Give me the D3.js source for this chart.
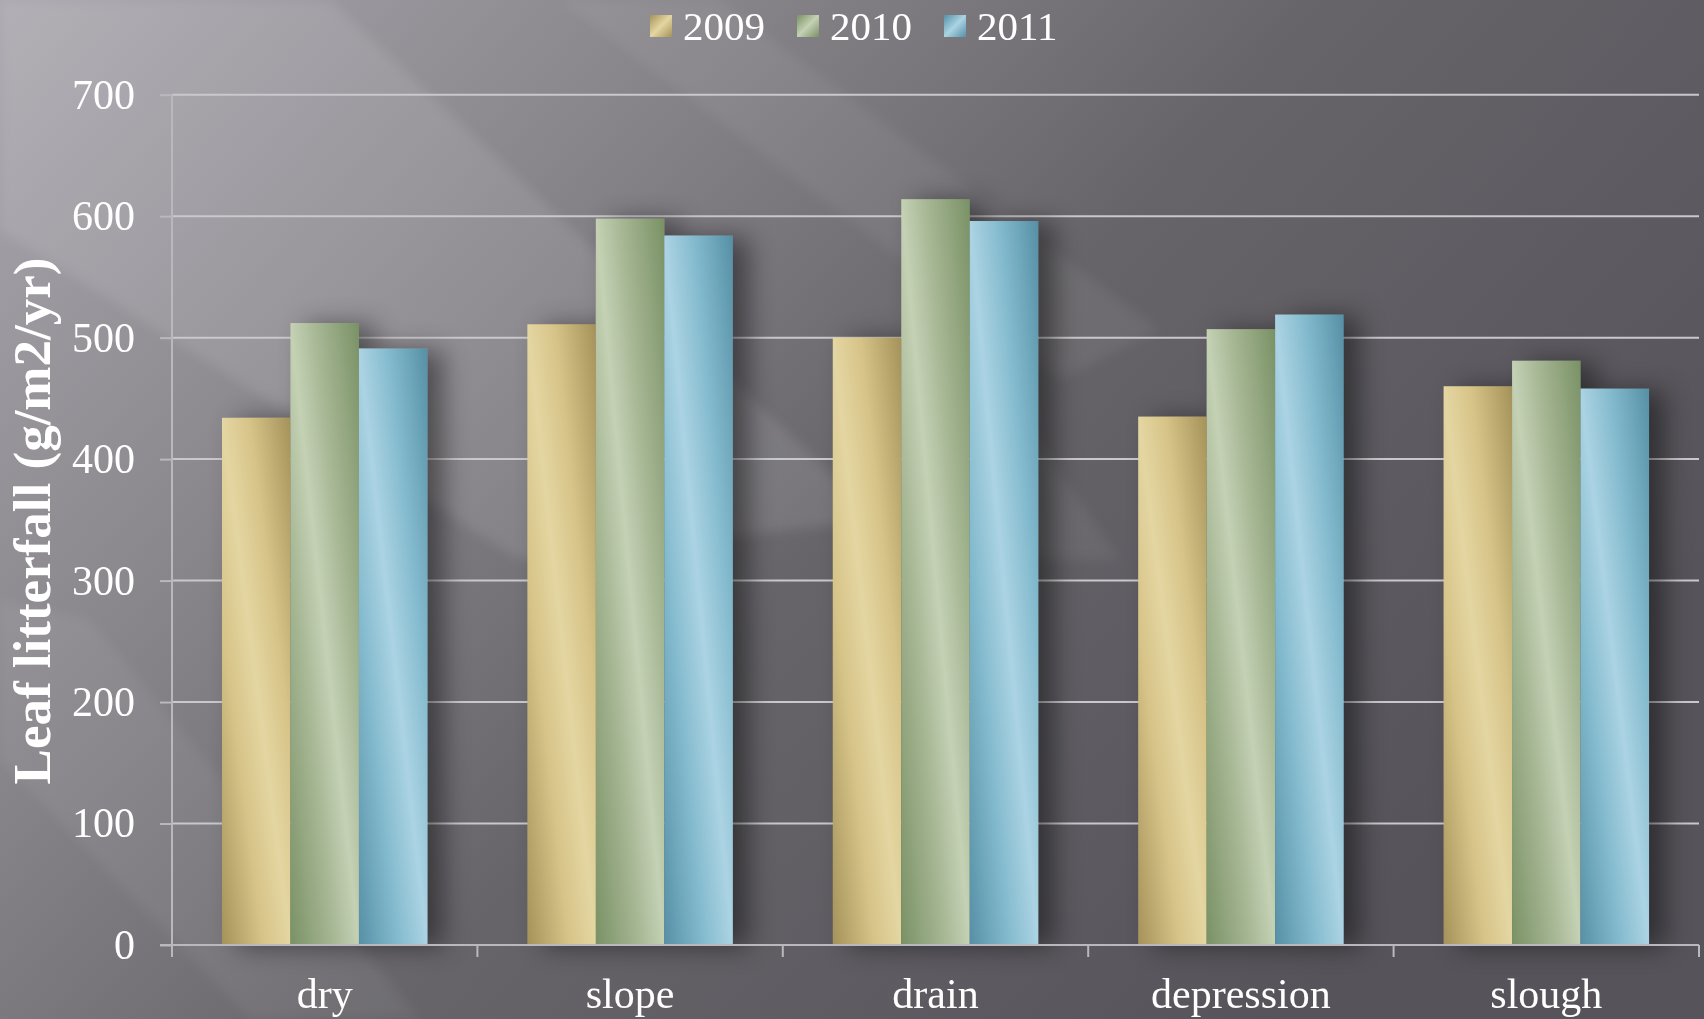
<!DOCTYPE html>
<html>
<head>
<meta charset="utf-8">
<script src="https://cdn.jsdelivr.net/npm/d3@7"></script>
<style>
  body { margin: 0; background: #6a686d; }
  svg { display: block; }
  text { font-family: "Liberation Serif", "Times New Roman", serif; fill: #fff; }
</style>
</head>
<body>
<div id="chart"></div>
<script>
// data
var categories = ["dry", "slope", "drain", "depression", "slough"];
var years = ["2009", "2010", "2011"];
var litter2009 = [434, 511, 500, 435, 460];
var litter2010 = [512, 598, 614, 507, 481];
var litter2011 = [491, 584, 596, 519, 458];
var yTicks = [0, 100, 200, 300, 400, 500, 600, 700];
var yTitle = "Leaf litterfall (g/m2/yr)";

function init ()
{
    var w = 1704;
    var h = 1019;
    var left = 172, right = 1699, top = 94.7, bottom = 945;

    var series = [litter2009, litter2010, litter2011];
    var rows = categories.map(function (c, i) {
        return { cat: c, vals: years.map(function (yr, j) { return { year: yr, value: series[j][i] }; }) };
    });

    var shades = {
        "2009": ["#e4d6a2", "#d6c387", "#a5925a"],
        "2010": ["#c4d1b4", "#a4b592", "#7a9165"],
        "2011": ["#abd3e3", "#86bccf", "#5690a6"]
    };

    var svg = d3.select("#chart")
        .append("svg")
        .attr("width", w)
        .attr("height", h);

    var defs = svg.append("defs");

    // background
    var bg = defs.append("linearGradient").attr("id", "bg")
        .attr("x1", 0).attr("y1", 0).attr("x2", 1).attr("y2", 0.55);
    bg.append("stop").attr("offset", 0).attr("stop-color", "#aaa7ae");
    bg.append("stop").attr("offset", 0.3).attr("stop-color", "#8a878d");
    bg.append("stop").attr("offset", 0.6).attr("stop-color", "#666469");
    bg.append("stop").attr("offset", 1).attr("stop-color", "#56545a");

    var blur = defs.append("filter").attr("id", "soft")
        .attr("x", "-20%").attr("y", "-20%").attr("width", "140%").attr("height", "140%");
    blur.append("feGaussianBlur").attr("stdDeviation", 6);

    var shadow = defs.append("filter").attr("id", "shadow")
        .attr("x", "-30%").attr("y", "-10%").attr("width", "160%").attr("height", "120%");
    shadow.append("feDropShadow").attr("dx", 16).attr("dy", 2)
        .attr("stdDeviation", 13).attr("flood-color", "#000").attr("flood-opacity", 0.45);

    years.forEach(function (yr) {
        var g = defs.append("linearGradient").attr("id", "bar" + yr)
            .attr("x1", 1).attr("y1", 0).attr("x2", 0).attr("y2", 1);
        g.append("stop").attr("offset", 0).attr("stop-color", shades[yr][2]);
        g.append("stop").attr("offset", 0.3).attr("stop-color", shades[yr][1]);
        g.append("stop").attr("offset", 0.5).attr("stop-color", shades[yr][0]);
        g.append("stop").attr("offset", 0.7).attr("stop-color", shades[yr][1]);
        g.append("stop").attr("offset", 1).attr("stop-color", shades[yr][2]);

        var k = defs.append("linearGradient").attr("id", "key" + yr)
            .attr("x1", 0).attr("y1", 0).attr("x2", 1).attr("y2", 1);
        k.append("stop").attr("offset", 0).attr("stop-color", shades[yr][2]);
        k.append("stop").attr("offset", 0.5).attr("stop-color", shades[yr][0]);
        k.append("stop").attr("offset", 1).attr("stop-color", shades[yr][2]);
    });

    svg.append("rect").attr("width", w).attr("height", h).attr("fill", "url(#bg)");

    // light beams across the slide
    var beams = [
        [[0, 0], [330, 0], [880, 520], [520, 560], [0, 230]],
        [[560, 0], [720, 0], [1160, 330], [1060, 380]],
        [[0, 600], [90, 620], [420, 1019], [250, 1019], [0, 760]],
        [[940, 380], [1010, 400], [1120, 560], [1040, 560]]
    ];
    svg.append("g").attr("filter", "url(#soft)")
        .selectAll("polygon")
        .data(beams)
        .enter()
        .append("polygon")
        .attr("points", function (d) { return d.map(function (p) { return p.join(","); }).join(" "); })
        .attr("fill", "#fff")
        .attr("opacity", function (d, i) { return i == 0 ? 0.1 : 0.06; });

    var y = d3.scaleLinear().domain([0, 700]).range([bottom, top]);
    var x0 = d3.scaleBand().domain(categories).range([left, right]);
    var x1 = d3.scaleBand().domain(years).range([0, x0.bandwidth()]).paddingOuter(0.73);

    // gridlines
    svg.append("g").selectAll("line")
        .data(yTicks.slice(1))
        .enter()
        .append("line")
        .attr("x1", left).attr("x2", right)
        .attr("y1", function (d) { return y(d); })
        .attr("y2", function (d) { return y(d); })
        .attr("stroke", "#c9c8cc").attr("stroke-width", 2);

    // bars
    var groups = svg.append("g").attr("filter", "url(#shadow)")
        .selectAll("g")
        .data(rows)
        .enter()
        .append("g")
        .attr("transform", function (d) { return "translate(" + x0(d.cat) + ",0)"; });

    groups.selectAll("rect")
        .data(function (d) { return d.vals; })
        .enter()
        .append("rect")
        .attr("x", function (d) { return x1(d.year); })
        .attr("width", x1.bandwidth())
        .attr("y", function (d) { return y(d.value); })
        .attr("height", function (d) { return bottom - y(d.value); })
        .attr("fill", function (d) { return "url(#bar" + d.year + ")"; });

    // y axis
    var yAxis = svg.append("g")
        .attr("transform", "translate(" + left + ",0)")
        .call(d3.axisLeft(y).tickValues(yTicks).tickSize(12).tickPadding(25));
    yAxis.select(".domain").attr("stroke", "#b9b8bc").attr("stroke-width", 2)
        .attr("d", "M0," + top + "V" + (bottom + 12));
    yAxis.selectAll(".tick line").attr("stroke", "#b9b8bc").attr("stroke-width", 2);
    yAxis.selectAll(".tick text").attr("font-size", 42).attr("fill", "#fff")
        .style("font-family", "'Liberation Serif', serif");

    // x axis: baseline, boundary ticks, centered labels
    svg.append("line")
        .attr("x1", 160).attr("x2", right)
        .attr("y1", bottom).attr("y2", bottom)
        .attr("stroke", "#b9b8bc").attr("stroke-width", 2);
    svg.append("g").selectAll("line")
        .data(categories.map(function (c) { return x0(c); }).concat([right]))
        .enter()
        .append("line")
        .attr("x1", function (d) { return d; }).attr("x2", function (d) { return d; })
        .attr("y1", bottom).attr("y2", bottom + 12)
        .attr("stroke", "#b9b8bc").attr("stroke-width", 2);
    svg.append("g").selectAll("text")
        .data(categories)
        .enter()
        .append("text")
        .attr("x", function (d) { return x0(d) + x0.bandwidth() / 2; })
        .attr("y", 1008)
        .attr("text-anchor", "middle")
        .attr("font-size", 42)
        .text(function (d) { return d; });

    // y title
    svg.append("text")
        .attr("transform", "translate(50,521) rotate(-90)")
        .attr("text-anchor", "middle")
        .attr("font-size", 53)
        .attr("font-weight", "bold")
        .text(yTitle);

    // legend
    var legend = svg.append("g").selectAll("g")
        .data(years)
        .enter()
        .append("g")
        .attr("transform", function (d, i) { return "translate(" + (650 + i * 147) + ",0)"; });
    legend.append("rect")
        .attr("y", 15).attr("width", 22).attr("height", 22)
        .attr("fill", function (d) { return "url(#key" + d + ")"; });
    legend.append("text")
        .attr("x", 33).attr("y", 40)
        .attr("font-size", 41)
        .text(function (d) { return d; });
}

window.onload = init;
</script>
</body>
</html>
